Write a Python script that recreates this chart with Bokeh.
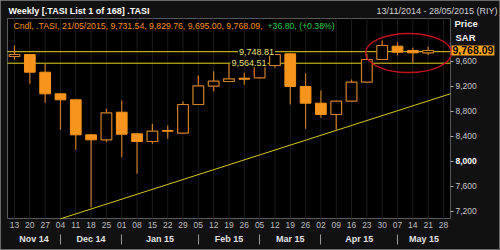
from bokeh.plotting import figure
from bokeh.models import (Range1d, LinearAxis, FixedTicker, Label,
                          CustomJSTickFormatter, NumeralTickFormatter, ColumnDataSource)
from bokeh.embed import file_html
from bokeh.resources import INLINE

# ---------------- data ----------------
week_labels = ["13", "20", "27", "04", "11", "18", "25", "01", "08", "15", "22", "29",
               "05", "12", "19", "26", "05", "12", "19", "26", "02", "09", "16", "23",
               "30", "07", "14", "21", "28"]
month_names = ["Nov 14", "Dec 14", "Jan 15", "Feb 15", "Mar 15", "Apr 15", "May 15"]
month_first_week = [0, 3, 7, 12, 16, 20, 25]

opens = [9672, 9704, 9421, 9075, 8979, 8419, 8339, 8781, 8435, 8312, 8488, 8445, 8904, 9197,
         9272, 9325, 9331, 9528, 9715, 9192, 8925, 8744, 8957, 9261, 9624, 9837, 9768, 9731.54]
highs = [9848, 9712, 9565, 9080, 8985, 8425, 8835, 8968, 8440, 8595, 8568, 8952, 9368, 9437,
         9555, 9411, 9555, 9712, 9720, 9405, 9128, 8962, 9304, 9715, 9928, 9901, 9811, 9829.76]
lows = [9619, 9235, 8931, 8499, 8179, 7261, 8301, 8061, 7795, 8275, 8355, 8440, 8900, 9117,
        9268, 9219, 9325, 9491, 8904, 8515, 8691, 8499, 8952, 9255, 9618, 9688, 9571, 9695.00]
closes = [9704, 9421, 9075, 8979, 8419, 8339, 8771, 8429, 8312, 8477, 8477, 8904, 9203, 9277,
          9315, 9309, 9517, 9704, 9192, 8925, 8744, 8957, 9261, 9624, 9848, 9741, 9731, 9768.09]

levels = [9748.81, 9564.51]
level_texts = ["9,748.81", "9,564.51"]
level_label_week = [15.8, 15.3]

trend_weeks = [3, 28]
trend_values = [7075, 9040]

highlight_week = [25.72]
highlight_value = [9728]
highlight_w = 5.6
highlight_h = 624

y_ticks = [7200, 7600, 8000, 8400, 8800, 9200, 9600]
last_close = 9768.09
title_text = "Weekly [.TASI List 1 of 168] .TASI"
range_text = "13/11/2014 - 28/05/2015 (RIY)"
legend_main = "Cndl, .TASI, 21/05/2015, 9,731.54, 9,829.76, 9,695.00, 9,768.09,"
legend_change = "+36.80, (+0.38%)"

# ---------------- geometry (chart box inside a full-canvas frame) ----------------
X0, X1 = -0.457, 28.459          # chart box x extent (week index units)
Y0, Y1 = 7080, 10280             # chart box y extent (price)
XS, XE = -0.9138, 31.723         # whole canvas
YS, YE = 6568, 10568
MONTH_AXIS_Y = 6856              # row of month names
SEP_AXIS_Y = 6672                # bottom of month separators
FONT = "Liberation Sans"

p = figure(width=500, height=250, min_border=0,
           x_range=Range1d(XS, XE), y_range=Range1d(YS, YE),
           x_axis_location=None, y_axis_location=None,
           output_backend="svg", toolbar_location=None,
           background_fill_color="#111111", border_fill_color="#111111",
           outline_line_color="#6a6a6a")
p.grid.visible = False

# chart box
p.quad(left=[X0], right=[X1], bottom=[Y0], top=[Y1], fill_color="#000000",
       line_color="#5a5a5a", line_width=1)

# week grid
weeks = list(range(len(week_labels)))
p.segment(x0=weeks, y0=[Y0] * len(weeks), x1=weeks, y1=[Y1] * len(weeks),
          line_color="#1c1c1c", line_width=1)

# bottom day axis
day_axis = LinearAxis(fixed_location=Y0, ticker=FixedTicker(ticks=weeks),
                      formatter=CustomJSTickFormatter(args=dict(labels=week_labels),
                          code="const i = Math.round(tick); return (i >= 0 && i < labels.length) ? labels[i] : '';"),
                      major_tick_out=0, major_tick_in=0, minor_tick_out=0, minor_tick_in=0,
                      axis_line_color=None, major_label_standoff=3,
                      major_label_text_font=FONT, major_label_text_font_size="8.5px",
                      major_label_text_color="#bdbdbd")
p.add_layout(day_axis, "below")

# bottom month axis (names)
seps = month_first_week[1:]
bounds = [X0] + seps + [X1]
centers = [round((bounds[i] + bounds[i + 1]) / 2, 3) for i in range(len(bounds) - 1)]
month_axis = LinearAxis(fixed_location=MONTH_AXIS_Y,
                        ticker=FixedTicker(ticks=centers),
                        formatter=CustomJSTickFormatter(args=dict(centers=centers, names=month_names),
                            code="let b = 0, d = Infinity; for (let i = 0; i < centers.length; i++) { const e = Math.abs(centers[i] - tick); if (e < d) { d = e; b = i; } } return names[b];"),
                        major_tick_out=0, major_tick_in=0, minor_tick_out=0, minor_tick_in=0,
                        axis_line_color=None,
                        major_label_standoff=1, major_label_text_font=FONT,
                        major_label_text_font_size="9px", major_label_text_font_style="bold",
                        major_label_text_color="#e2e2e2")
p.add_layout(month_axis, "below")

# month separators (ticks pointing up, no labels)
sep_axis = LinearAxis(fixed_location=SEP_AXIS_Y, ticker=FixedTicker(ticks=seps),
                      formatter=CustomJSTickFormatter(code="return '';"),
                      major_tick_out=0, major_tick_in=10, minor_tick_out=0, minor_tick_in=0,
                      major_tick_line_color="#9a9a9a", axis_line_color=None,
                      major_label_text_font_size="1px")
p.add_layout(sep_axis, "below")

# right price axis
y_axis = LinearAxis(fixed_location=X1, ticker=FixedTicker(ticks=y_ticks),
                    formatter=NumeralTickFormatter(format="0,0"),
                    major_label_overrides={8000: ""},
                    major_tick_out=3, major_tick_in=0, minor_tick_out=0, minor_tick_in=0,
                    major_tick_line_color="#b0b0b0", axis_line_color=None,
                    major_label_standoff=2, major_label_text_font=FONT,
                    major_label_text_font_size="8.5px", major_label_text_color="#c8c8c8")
p.add_layout(y_axis, "right")
p.add_layout(Label(x=X1, y=8000, x_offset=5, text="8,000", text_align="left", text_baseline="middle",
                   text_font=FONT, text_font_size="8.5px", text_font_style="bold", text_color="#ffffff"))

# levels
p.segment(x0=[X0] * len(levels), y0=levels, x1=[X1] * len(levels), y1=levels,
          line_color="#e8d41c", line_width=1)
for lv, lt, lx in zip(levels, level_texts, level_label_week):
    p.add_layout(Label(x=lx, y=lv, text=lt, text_align="center", text_baseline="middle",
                       text_font=FONT, text_font_size="9px", text_color="#e8e07a",
                       background_fill_color="#000000", padding=1))

# trend line (extrapolated to the right edge of the chart box)
g = (trend_values[1] - trend_values[0]) / (trend_weeks[1] - trend_weeks[0])
tx = [trend_weeks[0], X1]
ty = [trend_values[0], trend_values[0] + g * (X1 - trend_weeks[0])]
p.line(tx, ty, line_color="#d8c81e", line_width=1)

# candles
idx = list(range(len(opens)))
up = [c >= o for o, c in zip(opens, closes)]


def subset(flag):
    return ColumnDataSource(dict(
        x=[i for i, u in zip(idx, up) if u == flag],
        top=[max(o, c) for o, c, u in zip(opens, closes, up) if u == flag],
        bottom=[min(o, c) for o, c, u in zip(opens, closes, up) if u == flag],
        high=[h for h, u in zip(highs, up) if u == flag],
        low=[l for l, u in zip(lows, up) if u == flag]))


src_up = subset(True)
src_dn = subset(False)
UP_COL = "#d08029"
DN_COL = "#f7941d"
DN_WICK = "#c47a25"
p.segment(x0="x", y0="low", x1="x", y1="high", source=src_up, line_color=UP_COL, line_width=1.2)
p.segment(x0="x", y0="low", x1="x", y1="high", source=src_dn, line_color=DN_WICK, line_width=1.2)
p.vbar(x="x", top="top", bottom="bottom", width=0.7, source=src_up,
       fill_color="#000000", line_color=UP_COL, line_width=1.2)
p.vbar(x="x", top="top", bottom="bottom", width=0.7, source=src_dn,
       fill_color=DN_COL, line_color=DN_COL, line_width=1)

# highlight ellipse
p.ellipse(x=highlight_week, y=highlight_value, width=highlight_w, height=highlight_h,
          fill_color=None, line_color="#c3121f", line_width=1.3)

# texts
p.add_layout(Label(x=X0, y=Y1, x_offset=1, y_offset=8, text=title_text, text_align="left",
                   text_baseline="middle", text_font=FONT, text_font_size="9px",
                   text_font_style="bold", text_color="#ffffff"))
p.add_layout(Label(x=X1, y=Y1, x_offset=47, y_offset=8, text=range_text, text_align="right",
                   text_baseline="middle", text_font=FONT, text_font_size="9px",
                   text_color="#d0d0d0"))
p.add_layout(Label(x=X0, y=Y1, x_offset=6, y_offset=-7, text=legend_main, text_align="left",
                   text_baseline="middle", text_font=FONT, text_font_size="8.7px",
                   text_color="#f0901e"))
p.add_layout(Label(x=X0, y=Y1, x_offset=260, y_offset=-7, text=legend_change, text_align="left",
                   text_baseline="middle", text_font=FONT, text_font_size="8.7px",
                   text_color="#2ec84a"))
p.add_layout(Label(x=X1, y=Y1, x_offset=4, y_offset=-4.5, text="Price", text_align="left",
                   text_baseline="middle", text_font=FONT, text_font_size="9.5px",
                   text_font_style="bold", text_color="#f0f0f0"))
p.add_layout(Label(x=X1, y=Y1, x_offset=5, y_offset=-18.5, text="SAR", text_align="left",
                   text_baseline="middle", text_font=FONT, text_font_size="9.5px",
                   text_font_style="bold", text_color="#f0f0f0"))
p.add_layout(Label(x=X1, y=last_close, x_offset=1, text=f"{last_close:,.2f}", text_align="left",
                   text_baseline="middle", text_font=FONT, text_font_size="10.5px",
                   text_font_style="bold", text_color="#000000",
                   background_fill_color="#ffa31a", padding=1))

open("out.html", "w").write(file_html(p, INLINE))
